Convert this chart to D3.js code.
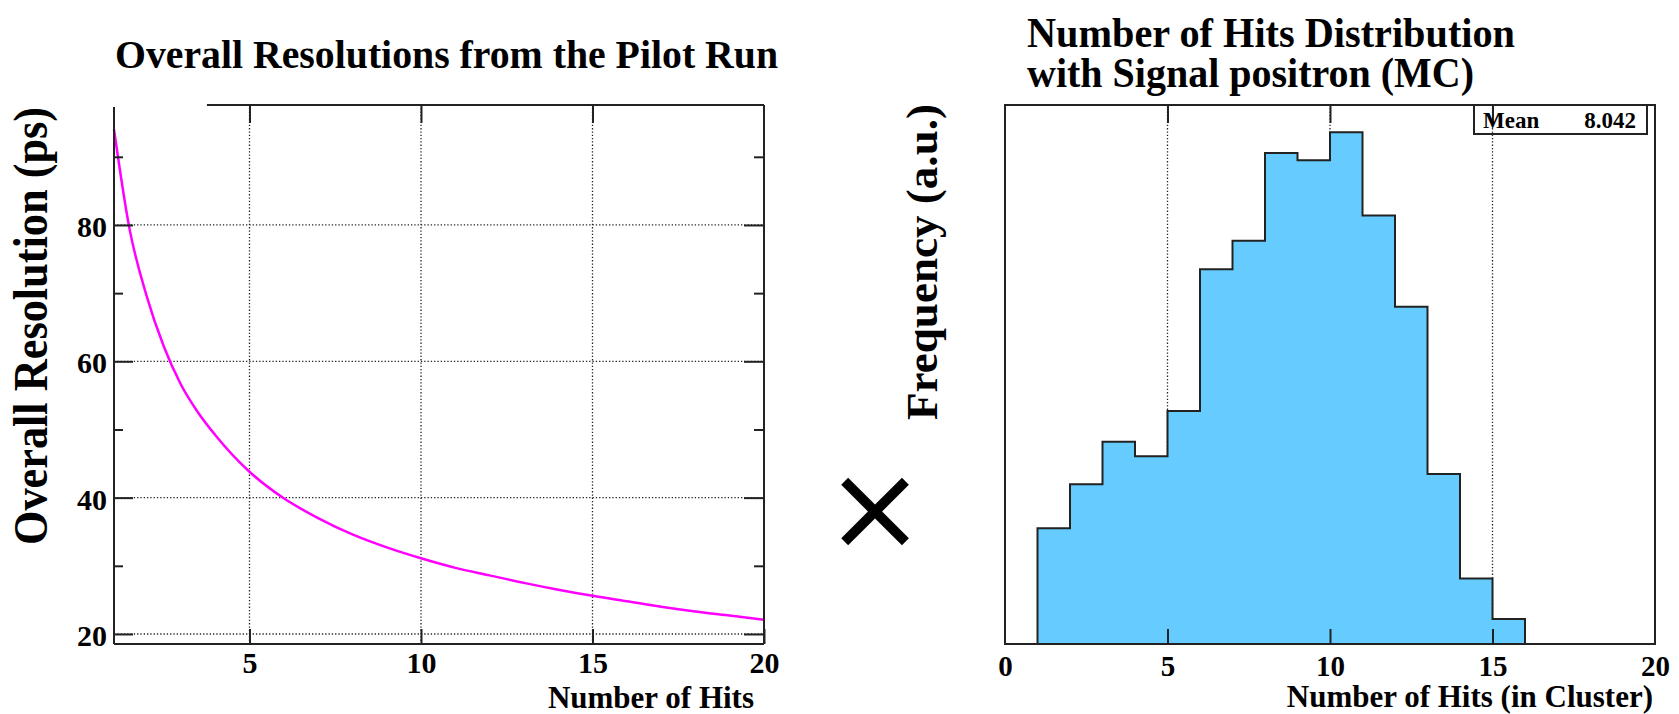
<!DOCTYPE html>
<html>
<head>
<meta charset="utf-8">
<script src="https://cdn.jsdelivr.net/npm/d3@7"></script>
<style>
  body { margin: 0; background: #fff; }
  text { font-family: "Liberation Serif", "Times New Roman", serif; font-weight: bold; fill: #000; }
</style>
</head>
<body>
<div id="wrapper"></div>
<script>
// left panel: resolution vs number of hits
const hits = [1.05, 1.5, 2, 2.5, 3, 3.5, 4, 5, 6, 7, 8, 9, 10, 11, 12, 13, 14, 15, 16, 17, 18, 19, 20]
const resolution = [94, 79.5, 69.6, 62.2, 56.6, 52.5, 49.2, 43.8, 39.9, 37, 34.6, 32.7, 31.1, 29.7, 28.6, 27.5, 26.5, 25.6, 24.8, 24, 23.3, 22.7, 22.1]
const leftXTicks = [5, 10, 15, 20]
const leftYTicks = [20, 40, 60, 80]
const leftYMinor = [30, 50, 70, 90]

// right panel: hit multiplicity histogram (arbitrary units)
const hitBins = [1, 2, 3, 4, 5, 6, 7, 8, 9, 10, 11, 12, 13, 14, 15]
const frequency = [226, 312, 395, 367, 455, 732, 788, 959, 945, 1000, 837, 659, 332, 128, 49]
const rightXTicks = [0, 5, 10, 15, 20]
const meanValue = "8.042"

const width = 1679
const height = 714

const svg = d3.select("#wrapper")
  .append("svg")
    .attr("width", width)
    .attr("height", height)

function dotted(sel) {
  return sel.attr("stroke", "#222")
    .attr("stroke-width", 1.3)
    .attr("stroke-dasharray", "1.3,2")
}

// ---------- left chart ----------
const L = { left: 114, right: 764, top: 105, bottom: 644 }

const xL = d3.scaleLinear().domain([1.05, 20]).range([L.left, L.right])
const yL = d3.scaleLinear().domain([18.53, 97.6]).range([L.bottom, L.top])

const left = svg.append("g")

// grid
left.selectAll(".vgrid")
  .data(leftXTicks.filter(d => d < 20))
  .join("line")
    .attr("x1", d => xL(d)).attr("x2", d => xL(d))
    .attr("y1", L.top).attr("y2", L.bottom)
    .call(dotted)
left.selectAll(".hgrid")
  .data(leftYTicks)
  .join("line")
    .attr("x1", L.left).attr("x2", L.right)
    .attr("y1", d => yL(d)).attr("y2", d => yL(d))
    .call(dotted)

// curve
const resLine = d3.line()
  .x((d, i) => xL(hits[i]))
  .y(d => yL(d))
  .curve(d3.curveMonotoneX)

left.append("path")
  .datum(resolution)
  .attr("d", resLine)
  .attr("fill", "none")
  .attr("stroke", "#ff00ff")
  .attr("stroke-width", 2.5)

// axes (ticks inside the frame, ROOT style)
const yAxisL = left.append("g")
  .attr("transform", `translate(${L.left},0)`)
  .call(d3.axisLeft(yL).tickValues(leftYTicks).tickSize(-19).tickPadding(7))
yAxisL.append("g")
  .call(d3.axisLeft(yL).tickValues(leftYMinor).tickSize(-9).tickFormat(""))

const yAxisR = left.append("g")
  .attr("transform", `translate(${L.right},0)`)
  .call(d3.axisRight(yL).tickValues(leftYTicks).tickSize(-20).tickFormat(""))
yAxisR.append("g")
  .call(d3.axisRight(yL).tickValues(leftYMinor).tickSize(-10).tickFormat(""))

const xAxisL = left.append("g")
  .attr("transform", `translate(0,${L.bottom})`)
  .call(d3.axisBottom(xL).tickValues(leftXTicks).tickSize(-15).tickPadding(8))

left.append("g")
  .attr("transform", `translate(0,${L.top})`)
  .call(d3.axisTop(xL).tickValues(leftXTicks.filter(d => d < 20)).tickSize(-18).tickFormat(""))

left.selectAll(".domain").remove()
left.selectAll(".tick line").attr("stroke", "#222").attr("stroke-width", 2)

yAxisL.selectAll("text")
  .attr("font-size", 30)
  .attr("dy", "0.38em")
  .style("font-family", "Liberation Serif")
  .style("font-weight", "bold")
xAxisL.selectAll("text")
  .attr("font-size", 30)
  .attr("dy", "0.71em")
  .style("font-family", "Liberation Serif")
  .style("font-weight", "bold")

// frame (top edge is clipped on the left in the original)
const frameL = left.append("g").attr("stroke", "#222").attr("stroke-width", 2).attr("fill", "none")
frameL.append("line").attr("x1", L.left).attr("x2", L.left).attr("y1", L.top + 2).attr("y2", L.bottom)
frameL.append("line").attr("x1", L.left).attr("x2", L.right).attr("y1", L.bottom).attr("y2", L.bottom)
frameL.append("line").attr("x1", L.right).attr("x2", L.right).attr("y1", L.top).attr("y2", L.bottom)
frameL.append("line").attr("x1", L.left + (L.right - L.left) * 0.143).attr("x2", L.right).attr("y1", L.top).attr("y2", L.top)

// titles
svg.append("text")
  .attr("x", 115).attr("y", 68)
  .attr("font-size", 39)
  .attr("textLength", 663)
  .attr("lengthAdjust", "spacingAndGlyphs")
  .text("Overall Resolutions from the Pilot Run")

svg.append("text")
  .attr("transform", `translate(47,${(107 + 545) / 2}) rotate(-90)`)
  .attr("text-anchor", "middle")
  .attr("font-size", 48)
  .attr("textLength", 438)
  .attr("lengthAdjust", "spacingAndGlyphs")
  .text("Overall Resolution (ps)")

svg.append("text")
  .attr("x", 754).attr("y", 708)
  .attr("text-anchor", "end")
  .attr("font-size", 31)
  .text("Number of Hits")

// ---------- multiplication sign ----------
svg.append("text")
  .attr("x", 875).attr("y", 509)
  .attr("text-anchor", "middle")
  .attr("dy", "0.33em")
  .attr("font-size", 120)
  .style("font-family", "DejaVu Sans")
  .style("font-weight", "normal")
  .text("×")

// ---------- right chart ----------
const R = { left: 1005, right: 1655, top: 105, bottom: 644 }

const xR = d3.scaleLinear().domain([0, 20]).range([R.left, R.right])
const yR = d3.scaleLinear().domain([0, d3.max(frequency) * 1.053]).range([R.bottom, R.top])

const right = svg.append("g")

right.selectAll(".vgrid")
  .data(rightXTicks.filter(d => d > 0 && d < 20))
  .join("line")
    .attr("x1", d => xR(d)).attr("x2", d => xR(d))
    .attr("y1", R.top).attr("y2", R.bottom)
    .call(dotted)

// histogram outline as a step path
const histPoints = [[hitBins[0], 0]]
  .concat(hitBins.map((b, i) => [b, frequency[i]]))
  .concat([[hitBins[hitBins.length - 1] + 1, 0]])

const histLine = d3.line()
  .x(d => xR(d[0]))
  .y(d => yR(d[1]))
  .curve(d3.curveStepAfter)

right.append("path")
  .datum(histPoints)
  .attr("d", histLine)
  .attr("fill", "#66ccff")
  .attr("stroke", "#222")
  .attr("stroke-width", 2)

const xAxisR = right.append("g")
  .attr("transform", `translate(0,${R.bottom})`)
  .call(d3.axisBottom(xR).tickValues(rightXTicks).tickSize(-15).tickPadding(11))
xAxisR.selectAll(".tick line").filter(d => d === 0 || d === 20).remove()

right.append("g")
  .attr("transform", `translate(0,${R.top})`)
  .call(d3.axisTop(xR).tickValues(rightXTicks.filter(d => d > 0 && d < 20)).tickSize(-18).tickFormat(""))

right.selectAll(".domain").remove()
right.selectAll(".tick line").attr("stroke", "#222").attr("stroke-width", 2)
xAxisR.selectAll("text")
  .attr("font-size", 29)
  .attr("dy", "0.71em")
  .style("font-family", "Liberation Serif")
  .style("font-weight", "bold")

right.append("rect")
  .attr("x", R.left).attr("y", R.top)
  .attr("width", R.right - R.left).attr("height", R.bottom - R.top)
  .attr("fill", "none")
  .attr("stroke", "#222")
  .attr("stroke-width", 2)

// stats box
const stats = right.append("g")
stats.append("rect")
  .attr("x", 1474).attr("y", R.top)
  .attr("width", 173).attr("height", 29)
  .attr("fill", "none")
  .attr("stroke", "#222")
  .attr("stroke-width", 2)
stats.append("text")
  .attr("x", 1483).attr("y", 128)
  .attr("font-size", 23)
  .text("Mean")
stats.append("text")
  .attr("x", 1636).attr("y", 128)
  .attr("text-anchor", "end")
  .attr("font-size", 23)
  .text(meanValue)

// two-line title kept in one text element
const rTitle = svg.append("text")
  .attr("font-size", 43)
rTitle.append("tspan")
  .attr("x", 1027).attr("y", 47)
  .attr("textLength", 488)
  .attr("lengthAdjust", "spacingAndGlyphs")
  .text("Number of Hits Distribution")
rTitle.append("tspan")
  .attr("x", 1027).attr("y", 87)
  .attr("textLength", 447)
  .attr("lengthAdjust", "spacingAndGlyphs")
  .text("with Signal positron (MC)")

svg.append("text")
  .attr("transform", `translate(937,${(104 + 420) / 2}) rotate(-90)`)
  .attr("text-anchor", "middle")
  .attr("font-size", 45)
  .attr("textLength", 316)
  .attr("lengthAdjust", "spacingAndGlyphs")
  .text("Frequency (a.u.)")

svg.append("text")
  .attr("x", 1653).attr("y", 707)
  .attr("text-anchor", "end")
  .attr("font-size", 31)
  .text("Number of Hits (in Cluster)")
</script>
</body>
</html>
